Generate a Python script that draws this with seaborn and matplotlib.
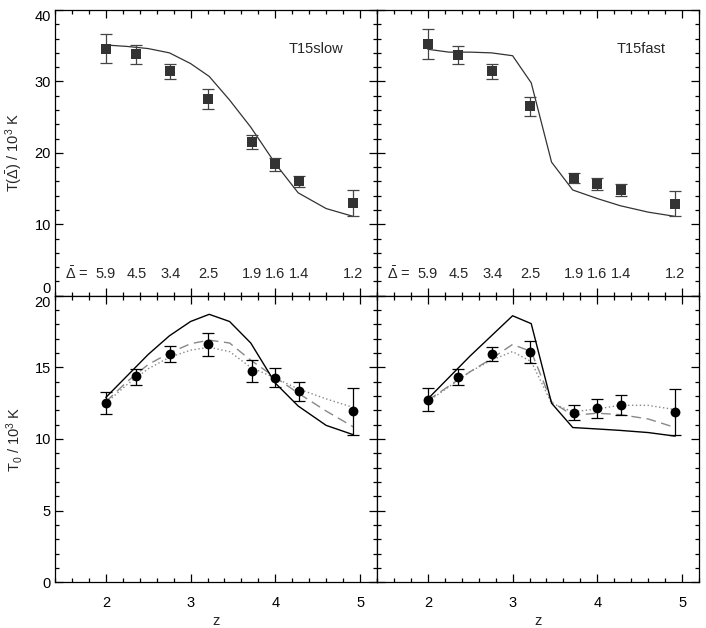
import numpy as np
import pandas as pd
import matplotlib
matplotlib.use("Agg")
import matplotlib.pyplot as plt
from matplotlib.ticker import MultipleLocator
import seaborn as sns

sns.set_style("ticks")
plt.rcParams['font.family'] = ['Liberation Sans', 'DejaVu Sans']
plt.rcParams['mathtext.fontset'] = 'custom'
plt.rcParams['mathtext.rm'] = 'Liberation Sans'
plt.rcParams['mathtext.it'] = 'Liberation Sans'
plt.rcParams['mathtext.bf'] = 'Liberation Sans:bold'

# ---------------- data ----------------
z_obs = [2.0, 2.36, 2.76, 3.21, 3.72, 4.0, 4.28, 4.92]
z_sim = [2.0, 2.25, 2.5, 2.75, 3.0, 3.22, 3.46, 3.71, 4.0, 4.27, 4.6, 4.92]
delta_labels = ["5.9", "4.5", "3.4", "2.5", "1.9", "1.6", "1.4", "1.2"]

# top panels: T(Delta-bar)
Tdelta_obs = [34.6, 33.8, 31.4, 27.5, 21.5, 18.4, 16.0, 13.0]
Tdelta_obs_lo = [32.6, 32.4, 30.4, 26.2, 20.5, 17.5, 15.2, 11.1]
Tdelta_obs_hi = [36.7, 35.1, 32.5, 28.9, 22.5, 19.3, 16.8, 14.8]
Tdelta_slow = [35.1, 34.9, 34.6, 34.0, 32.5, 30.7, 27.4, 23.6, 18.5, 14.4, 12.2, 11.1]

Tdelta_obs_f = [35.2, 33.7, 31.4, 26.5, 16.5, 15.7, 14.8, 12.9]
Tdelta_obs_f_lo = [33.1, 32.4, 30.4, 25.2, 15.8, 14.8, 13.9, 11.1]
Tdelta_obs_f_hi = [37.4, 35.0, 32.4, 27.8, 17.2, 16.5, 15.7, 14.7]
Tdelta_fast = [34.5, 34.1, 34.1, 34.0, 33.6, 29.8, 18.7, 14.8, 13.6, 12.6, 11.7, 11.1]

# bottom panels: T0
T0_obs = [12.5, 14.37, 15.93, 16.6, 14.74, 14.28, 13.35, 11.93]
T0_obs_lo = [11.77, 13.8, 15.4, 15.8, 14.0, 13.63, 12.67, 10.28]
T0_obs_hi = [13.28, 14.9, 16.47, 17.42, 15.5, 14.98, 14.0, 13.56]
T0_slow = [12.9, 14.4, 15.9, 17.2, 18.2, 18.7, 18.2, 16.7, 13.9, 12.3, 10.95, 10.3]
T0_slow_dash = [12.6, 14.0, 15.2, 16.0, 16.65, 16.9, 16.7, 15.5, 14.3, 13.2, 11.95, 10.85]
T0_slow_dot = [12.5, 13.8, 14.9, 15.7, 16.2, 16.4, 16.1, 15.0, 14.25, 13.5, 12.8, 12.2]

T0_obs_f = [12.74, 14.35, 15.93, 16.05, 11.84, 12.14, 12.37, 11.88]
T0_obs_f_lo = [11.95, 13.79, 15.42, 15.3, 11.33, 11.47, 11.65, 10.26]
T0_obs_f_hi = [13.53, 14.88, 16.44, 16.81, 12.37, 12.81, 13.09, 13.47]
T0_fast = [12.8, 14.3, 15.8, 17.2, 18.6, 18.05, 12.5, 10.8, 10.7, 10.6, 10.45, 10.2]
T0_fast_dash = [12.7, 13.7, 14.7, 15.6, 16.6, 16.1, 12.6, 11.65, 11.8, 11.7, 11.4, 10.8]
T0_fast_dot = [12.6, 13.65, 14.7, 15.5, 16.1, 15.4, 12.5, 11.9, 12.1, 12.35, 12.35, 12.05]

# ---------------- figure ----------------
fig = plt.figure(figsize=(7.06, 6.28), dpi=100)
L, W = 55 / 706, 322 / 706
B, H = 1 - 582.3 / 628, (582.3 - 295.7) / 628
H2 = (295.7 - 10) / 628
ax_tl = fig.add_axes([L, B + H, W, H2])
ax_tr = fig.add_axes([L + W, B + H, W, H2])
ax_bl = fig.add_axes([L, B, W, H])
ax_br = fig.add_axes([L + W, B, W, H])

FS = 10.5
sq_col = '#333333'
gray = '#888888'


def style(ax, top):
    ax.set_xlim(1.4, 5.2)
    ax.xaxis.set_major_locator(MultipleLocator(1))
    ax.xaxis.set_minor_locator(MultipleLocator(0.2))
    if top:
        ax.set_ylim(0, 40)
        ax.yaxis.set_major_locator(MultipleLocator(10))
        ax.yaxis.set_minor_locator(MultipleLocator(2))
    else:
        ax.set_ylim(0, 20)
        ax.yaxis.set_major_locator(MultipleLocator(5))
        ax.yaxis.set_minor_locator(MultipleLocator(1))
    ax.tick_params(which='both', direction='in', top=True, right=True,
                   labelsize=FS, width=0.9, colors='black')
    ax.tick_params(which='major', length=5.5)
    ax.tick_params(which='minor', length=3)
    ax.tick_params(axis='x', pad=10)
    ax.tick_params(axis='y', pad=3)
    for s in ax.spines.values():
        s.set_linewidth(0.9)
        s.set_color('black')
    ax.set_xlabel('')
    ax.set_ylabel('')


def top_panel(ax, obs, lo, hi, sim, name):
    df_sim = pd.DataFrame({'z': z_sim, 'T': sim})
    sns.lineplot(data=df_sim, x='z', y='T', ax=ax, color=sq_col, lw=0.9,
                 sort=False, estimator=None)
    yerr = [np.array(obs) - np.array(lo), np.array(hi) - np.array(obs)]
    ax.errorbar(z_obs, obs, yerr=yerr, fmt='none', ecolor='#444444',
                elinewidth=0.9, capsize=4, capthick=0.9)
    df_obs = pd.DataFrame({'z': z_obs, 'T': obs})
    sns.scatterplot(data=df_obs, x='z', y='T', ax=ax, marker='s', s=42,
                    color=sq_col, edgecolor=sq_col, linewidth=0, zorder=5)
    for zz, lab in zip(z_obs, delta_labels):
        ax.text(zz, 3.1, lab, ha='center', va='center', fontsize=FS)
    ax.text(1.52, 3.1, r'$\bar{\Delta}$ =', ha='left', va='center', fontsize=FS)
    ax.text(0.895, 0.865, name, transform=ax.transAxes, ha='right',
            va='center', fontsize=FS)
    style(ax, True)
    ax.set_xticklabels([])


def bottom_panel(ax, obs, lo, hi, sim, dash, dot):
    df = pd.DataFrame({'z': z_sim, 'solid': sim, 'dash': dash, 'dot': dot})
    sns.lineplot(data=df, x='z', y='dot', ax=ax, color=gray, lw=1.0,
                 sort=False, estimator=None, linestyle=(0, (1, 1.8)))
    sns.lineplot(data=df, x='z', y='dash', ax=ax, color=gray, lw=1.0,
                 sort=False, estimator=None, linestyle=(0, (7, 4)))
    sns.lineplot(data=df, x='z', y='solid', ax=ax, color='black', lw=1.0,
                 sort=False, estimator=None)
    yerr = [np.array(obs) - np.array(lo), np.array(hi) - np.array(obs)]
    ax.errorbar(z_obs, obs, yerr=yerr, fmt='none', ecolor='black',
                elinewidth=0.9, capsize=4, capthick=0.9)
    df_obs = pd.DataFrame({'z': z_obs, 'T': obs})
    sns.scatterplot(data=df_obs, x='z', y='T', ax=ax, marker='o', s=50,
                    color='black', edgecolor='black', linewidth=0, zorder=5)
    style(ax, False)
    ax.set_xlabel('z', fontsize=FS, labelpad=2.5)


top_panel(ax_tl, Tdelta_obs, Tdelta_obs_lo, Tdelta_obs_hi, Tdelta_slow, 'T15slow')
top_panel(ax_tr, Tdelta_obs_f, Tdelta_obs_f_lo, Tdelta_obs_f_hi, Tdelta_fast, 'T15fast')
bottom_panel(ax_bl, T0_obs, T0_obs_lo, T0_obs_hi, T0_slow, T0_slow_dash, T0_slow_dot)
bottom_panel(ax_br, T0_obs_f, T0_obs_f_lo, T0_obs_f_hi, T0_fast, T0_fast_dash, T0_fast_dot)

ax_tr.set_yticklabels([])
ax_br.set_yticklabels([])

# IDL-style: extreme tick labels nudged inward
fig.canvas.draw()
for lab in ax_tl.get_yticklabels():
    if lab.get_text() == '0':
        lab.set_va('bottom')
    elif lab.get_text() == '40':
        lab.set_va('top')
for lab in ax_bl.get_yticklabels():
    if lab.get_text() == '20':
        lab.set_va('top')
    elif lab.get_text() == '0':
        lab.set_va('center_baseline')

ax_tl.set_ylabel(r'T($\bar{\Delta}$) / 10$^3$ K', fontsize=FS)
ax_bl.set_ylabel(r'T$_0$ / 10$^3$ K', fontsize=FS)
ax_tl.yaxis.set_label_coords(-0.092, 0.5)
ax_bl.yaxis.set_label_coords(-0.092, 0.5)

fig.savefig('out.png', dpi=100)
